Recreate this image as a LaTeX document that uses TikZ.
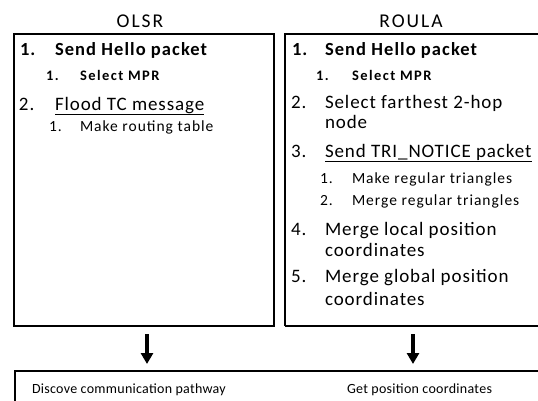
\documentclass[tikz,border=0pt]{standalone}
\usepackage{fontspec}
\setmainfont{Carlito}
\newfontfamily\fbig[LetterSpace=4.8]{Carlito}
\newfontfamily\fbigb[LetterSpace=5.8]{Carlito}
\newfontfamily\fsmallb[LetterSpace=10]{Carlito}
\newfontfamily\fsmall[LetterSpace=6.5]{Carlito}
\newfontfamily\ftiny[LetterSpace=2]{Carlito}
\newfontfamily\ftitle[LetterSpace=10]{Carlito}
\usetikzlibrary{arrows.meta}
\tikzset{
  frame/.style={draw=black,line width=1.4pt},
  txt/.style={anchor=base west,inner sep=0pt,outer sep=0pt},
  big/.style={txt,font=\fbig\fontsize{19}{22}\selectfont},
  bigb/.style={txt,font=\fbigb\bfseries\fontsize{18.5}{22}\selectfont},
  smallb/.style={txt,font=\fsmallb\bfseries\fontsize{14.5}{17}\selectfont},
  small/.style={txt,font=\fsmall\fontsize{15.5}{18}\selectfont},
  tiny/.style={txt,font=\ftiny\fontsize{14}{16}\selectfont},
  title/.style={anchor=base,inner sep=0pt,font=\ftitle\fontsize{19.5}{22}\selectfont},
  down/.style={line width=3.4pt,-{Triangle[width=12pt,length=11pt]}}
}
\begin{document}
\begin{tikzpicture}[x=1pt,y=-1pt]
\useasboundingbox (0,0) rectangle (538,400);
% frames
\draw[frame] (14,34) rectangle (274,326);
\draw[frame] (285,326) -- (285,34) -- (545,34);
\draw[frame] (545,326) -- (285,326);
\draw[frame] (545,371) -- (15,371) -- (15,410);
% titles
\node[title] (t1) at (140,27) {OLSR};
\node[title] (t2) at (411,27) {ROULA};
% OLSR list
\node[bigb] (a1n) at (20,55) {1.};
\node[bigb] (a1) at (55,55) {Send Hello packet};
\node[smallb] (a11n) at (46,80) {1.};
\node[smallb] (a11) at (80,80) {Select MPR};
\node[big] (a2n) at (19,110) {2.};
\node[big] (a2) at (55,110) {\underline{Flood TC message}};
\node[small] (a21n) at (49,131) {1.};
\node[small] (a21) at (80,131) {Make routing table};
% ROULA list
\node[bigb] (b1n) at (292,55) {1.};
\node[bigb] (b1) at (325,55) {Send Hello packet};
\node[smallb] (b11n) at (316,80) {1.};
\node[smallb] (b11) at (352,80) {Select MPR};
\node[big] (b2n) at (291,108) {2.};
\node[big] (b2) at (325,108) {Select farthest 2-hop};
\node[big] (b2b) at (325,128) {node};
\node[big] (b3n) at (291,157) {3.};
\node[big] (b3) at (325,157) {\underline{Send TRI\_NOTICE packet}};
\node[small] (b31n) at (320,183) {1.};
\node[small] (b31) at (352,183) {Make regular triangles};
\node[small] (b32n) at (320,205) {2.};
\node[small] (b32) at (352,205) {Merge regular triangles};
\node[big] (b4n) at (291,235) {4.};
\node[big] (b4) at (325,235) {Merge local position};
\node[big] (b4b) at (325,256) {coordinates};
\node[big] (b5n) at (291,282) {5.};
\node[big] (b5) at (325,282) {Merge global position};
\node[big] (b5b) at (325,305) {coordinates};
% bottom
\node[tiny] (c1) at (32,393) {Discove communication pathway};
\node[tiny] (c2) at (347,393) {Get position coordinates};
% arrows
\coordinate (l0) at (147,334);
\coordinate (l1) at (147,364);
\coordinate (r0) at (413,334);
\coordinate (r1) at (413,364);
\draw[down] (l0) -- (l1);
\draw[down] (r0) -- (r1);
\end{tikzpicture}
\end{document}
